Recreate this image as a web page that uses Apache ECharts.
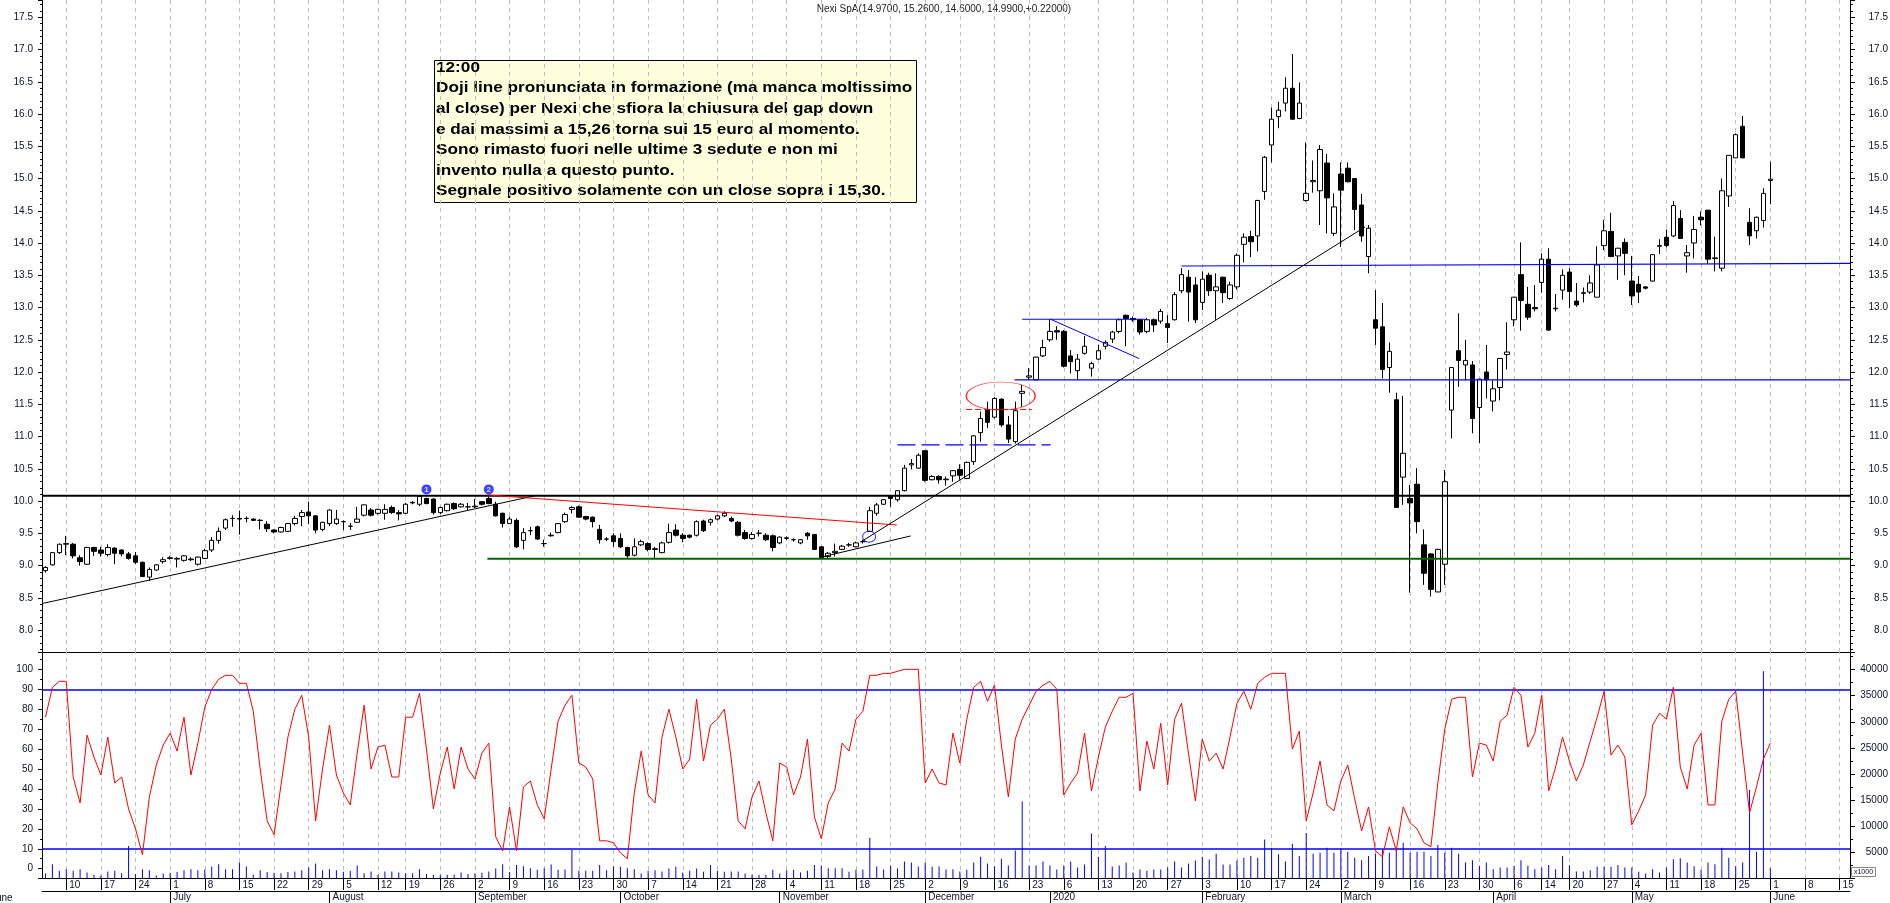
<!DOCTYPE html>
<html><head><meta charset="utf-8">
<script src="https://cdn.jsdelivr.net/npm/echarts@6/dist/echarts.min.js"></script>
<style>html,body{margin:0;padding:0;background:#fff;overflow:hidden}#c{width:1890px;height:903px}</style>
</head><body><div id="c"></div>
<script>
// ---------- calendar (trading days, Borsa Italiana) ----------
const calMonths = ['2019-06','2019-07','2019-08','2019-09','2019-10','2019-11','2019-12','2020-01','2020-02','2020-03','2020-04','2020-05','2020-06'];
const calDays = [
 [5,6,7,10,11,12,13,14,17,18,19,20,21,24,25,26,27,28],
 [1,2,3,4,5,8,9,10,11,12,15,16,17,18,19,22,23,24,25,26,29,30,31],
 [1,2,5,6,7,8,9,12,13,14,16,19,20,21,22,23,26,27,28,29,30],
 [2,3,4,5,6,9,10,11,12,13,16,17,18,19,20,23,24,25,26,27,30],
 [1,2,3,4,7,8,9,10,11,14,15,16,17,18,21,22,23,24,25,28,29,30,31],
 [1,4,5,6,7,8,11,12,13,14,15,18,19,20,21,22,25,26,27,28,29],
 [2,3,4,5,6,9,10,11,12,13,16,17,18,19,20,23,27,30],
 [2,3,6,7,8,9,10,13,14,15,16,17,20,21,22,23,24,27,28,29,30,31],
 [3,4,5,6,7,10,11,12,13,14,17,18,19,20,21,24,25,26,27,28],
 [2,3,4,5,6,9,10,11,12,13,16,17,18,19,20,23,24,25,26,27,30,31],
 [1,2,3,6,7,8,9,14,15,16,17,20,21,22,23,24,27,28,29,30],
 [4,5,6,7,8,11,12,13,14,15,18,19,20,21,22,25,26,27,28,29],
 [1,2,3,4,5,8,9,10,11,12,15,16]
];
const monthNames = ['January','February','March','April','May','June','July','August','September','October','November','December'];
const noGridDates = ['2019-12-30'];

// ---------- price data (OHLC) ----------
const openP = [
 8.92,9.01,9.20,9.33,9.33,9.12,9.02,9.28,9.24,9.17,
 9.27,9.24,9.18,9.15,9.05,8.82,8.93,9.06,9.12,9.10,
 9.08,9.09,9.02,9.11,9.24,9.39,9.58,9.73,9.73,9.73,
 9.72,9.70,9.64,9.55,9.52,9.53,9.65,9.76,9.83,9.77,
 9.56,9.65,9.65,9.68,9.61,9.67,9.78,9.86,9.81,9.81,
 9.90,9.82,9.81,9.97,9.95,10.04,10.03,9.82,9.85,9.96,
 9.91,9.91,9.91,9.99,10.04,9.95,9.81,9.65,9.70,9.39,
 9.54,9.60,9.34,9.46,9.51,9.68,9.87,9.91,9.76,9.75,
 9.56,9.41,9.46,9.42,9.28,9.16,9.32,9.34,9.26,9.20,
 9.36,9.55,9.47,9.47,9.47,9.69,9.67,9.72,9.77,9.73,
 9.67,9.51,9.42,9.50,9.47,9.46,9.35,9.42,9.40,9.35,
 9.50,9.48,9.29,9.14,9.20,9.25,9.32,9.29,9.37,9.53,
 9.81,9.95,10.08,10.02,10.16,10.56,10.51,10.78,10.33,10.38,
 10.33,10.39,10.49,10.35,10.61,11.06,11.41,11.30,11.58,11.18,
 10.92,11.67,11.92,11.88,12.25,12.50,12.64,12.63,12.25,12.02,
 12.29,12.06,12.20,12.40,12.51,12.63,12.88,12.83,12.81,12.63,
 12.81,12.79,12.75,12.81,13.26,13.47,13.35,13.08,13.50,13.26,
 13.47,13.14,13.32,13.98,14.10,14.11,14.80,15.52,15.96,16.17,
 16.40,15.93,14.66,14.95,14.81,15.24,14.15,15.07,15.16,15.00,
 14.59,13.79,12.81,12.70,12.07,11.57,10.37,10.04,10.26,9.32,
 9.18,8.59,9.02,11.41,12.33,12.11,12.11,11.45,12.00,11.55,
 11.76,12.27,12.81,13.51,13.05,13.00,13.39,13.75,12.98,13.27,
 13.55,13.10,13.22,13.24,13.16,13.96,14.18,13.80,14.01,13.41,
 13.36,13.32,13.41,13.95,14.09,14.11,14.38,13.80,14.00,14.40,
 14.51,13.76,13.61,14.73,15.32,15.81,14.32,14.19,14.35,14.97
];
const highP = [
 8.99,9.21,9.34,9.46,9.35,9.16,9.29,9.29,9.29,9.33,
 9.28,9.25,9.21,9.21,9.06,8.97,9.02,9.13,9.15,9.13,
 9.16,9.13,9.14,9.26,9.44,9.59,9.73,9.78,9.85,9.76,
 9.73,9.72,9.69,9.56,9.60,9.66,9.77,9.86,9.99,9.78,
 9.68,9.87,9.86,9.70,9.66,9.91,9.95,9.89,9.88,9.95,
 9.93,9.86,9.97,10.00,10.08,10.05,10.04,9.91,9.96,9.98,
 9.97,9.97,10.03,10.00,10.07,9.99,9.82,9.76,9.73,9.58,
 9.60,9.62,9.40,9.51,9.66,9.82,9.92,9.93,9.77,9.76,
 9.63,9.44,9.50,9.50,9.29,9.42,9.40,9.36,9.29,9.37,
 9.65,9.64,9.50,9.48,9.70,9.71,9.73,9.79,9.84,9.76,
 9.69,9.55,9.52,9.55,9.50,9.48,9.45,9.45,9.42,9.41,
 9.52,9.49,9.30,9.21,9.34,9.32,9.35,9.37,9.40,9.91,
 9.97,10.03,10.09,10.17,10.56,10.65,10.74,10.79,10.40,10.40,
 10.38,10.48,10.57,10.61,11.02,11.39,11.54,11.61,11.59,11.32,
 11.54,11.80,12.06,12.24,12.50,12.82,12.71,12.65,12.34,12.28,
 12.56,12.16,12.42,12.49,12.64,12.83,12.89,12.86,12.82,12.84,
 12.83,12.98,12.88,13.24,13.61,13.58,13.47,13.56,13.54,13.53,
 13.48,13.40,13.84,14.15,14.19,14.67,15.35,16.10,16.19,16.57,
 16.93,16.49,15.56,15.28,15.52,15.38,14.77,15.25,15.25,15.00,
 14.76,14.28,13.27,13.07,12.46,11.68,11.63,10.25,10.51,9.56,
 9.19,9.26,10.48,12.07,12.91,12.50,12.17,11.89,12.42,11.87,
 12.21,12.77,13.16,14.01,13.32,13.35,13.84,13.92,13.21,13.59,
 13.61,13.38,13.31,13.50,13.95,14.36,14.47,13.92,14.07,13.80,
 13.49,13.33,13.82,14.06,14.21,14.65,14.51,13.97,14.42,14.49,
 14.51,14.10,15.00,15.36,15.70,15.97,14.54,14.41,14.85,15.26
];
const lowP = [
 8.89,9.00,9.18,9.16,9.11,9.00,9.01,9.15,9.14,9.14,
 9.02,9.14,9.09,9.02,8.82,8.76,8.92,9.03,9.09,8.97,
 9.06,9.07,9.00,9.10,9.21,9.34,9.55,9.60,9.48,9.67,
 9.69,9.56,9.52,9.50,9.51,9.52,9.62,9.61,9.64,9.50,
 9.53,9.61,9.63,9.55,9.55,9.66,9.76,9.76,9.79,9.71,
 9.80,9.70,9.80,9.95,9.92,9.95,9.79,9.80,9.84,9.86,
 9.90,9.86,9.89,9.93,9.95,9.76,9.59,9.65,9.27,9.25,
 9.47,9.40,9.29,9.45,9.50,9.66,9.81,9.74,9.70,9.59,
 9.34,9.38,9.29,9.27,9.12,9.14,9.30,9.22,9.12,9.19,
 9.34,9.45,9.36,9.42,9.45,9.52,9.62,9.70,9.75,9.67,
 9.45,9.40,9.40,9.45,9.38,9.22,9.33,9.39,9.37,9.33,
 9.40,9.24,9.10,9.11,9.14,9.24,9.29,9.28,9.34,9.52,
 9.77,9.94,9.91,9.99,10.15,10.49,10.50,10.30,10.32,10.27,
 10.24,10.30,10.33,10.34,10.56,10.92,11.13,11.28,11.15,10.90,
 10.89,11.46,11.88,11.87,12.23,12.47,12.50,12.07,11.98,11.88,
 12.27,11.93,12.19,12.35,12.45,12.60,12.40,12.78,12.58,12.60,
 12.62,12.75,12.45,12.80,13.22,12.78,12.76,12.96,13.18,12.81,
 13.07,13.12,13.28,13.70,13.78,13.87,14.67,15.25,15.78,16.04,
 15.91,15.92,14.64,14.78,14.28,14.15,14.11,13.94,14.94,14.20,
 14.02,13.53,12.42,11.90,11.68,9.90,9.94,8.58,9.50,8.70,
 8.52,8.59,8.70,10.97,11.77,11.87,11.05,10.90,11.59,11.39,
 11.56,12.04,12.71,12.64,12.81,12.94,13.23,12.64,12.94,13.12,
 12.99,13.01,13.08,13.21,13.16,13.89,13.78,13.43,13.50,13.04,
 13.07,13.28,13.40,13.83,13.93,14.09,14.07,13.54,13.76,14.27,
 13.68,13.56,13.56,14.56,15.32,15.32,13.97,14.07,14.24,14.60
];
const closeP = [
 8.97,9.20,9.33,9.34,9.15,9.06,9.28,9.22,9.19,9.28,
 9.19,9.18,9.11,9.05,8.83,8.94,9.01,9.09,9.11,9.11,
 9.15,9.10,9.13,9.23,9.39,9.53,9.71,9.73,9.72,9.73,
 9.70,9.70,9.57,9.52,9.59,9.65,9.73,9.82,9.77,9.55,
 9.67,9.86,9.72,9.68,9.61,9.72,9.94,9.78,9.87,9.87,
 9.82,9.80,9.95,9.98,10.07,9.96,9.82,9.90,9.95,9.88,
 9.95,9.91,9.92,9.95,9.96,9.77,9.65,9.72,9.29,9.51,
 9.54,9.41,9.34,9.47,9.65,9.79,9.90,9.75,9.72,9.68,
 9.40,9.41,9.37,9.29,9.15,9.29,9.37,9.25,9.25,9.35,
 9.51,9.47,9.42,9.44,9.68,9.54,9.71,9.77,9.81,9.69,
 9.47,9.42,9.48,9.50,9.40,9.28,9.44,9.43,9.40,9.40,
 9.46,9.25,9.12,9.19,9.22,9.30,9.32,9.35,9.37,9.85,
 9.94,10.02,10.04,10.16,10.51,10.58,10.71,10.32,10.38,10.33,
 10.34,10.47,10.40,10.60,11.01,11.28,11.22,11.59,11.18,10.96,
 11.40,11.70,11.94,12.23,12.38,12.63,12.62,12.09,12.16,12.20,
 12.40,12.13,12.33,12.46,12.62,12.81,12.83,12.81,12.62,12.81,
 12.73,12.94,12.69,13.20,13.51,13.24,12.81,13.44,13.26,13.32,
 13.23,13.35,13.81,14.09,14.02,14.66,15.33,15.92,16.06,16.40,
 15.92,16.17,14.77,14.97,15.45,14.70,14.56,14.82,14.95,14.52,
 14.11,14.23,12.68,12.04,12.32,9.90,10.74,9.97,9.68,8.88,
 8.63,9.25,10.30,12.07,12.18,12.18,11.28,11.89,11.88,11.74,
 12.21,12.31,13.16,13.11,12.85,12.98,13.75,12.65,12.99,13.50,
 13.25,13.04,13.23,13.38,13.66,14.19,13.79,13.92,13.84,13.18,
 13.24,13.30,13.82,13.96,13.96,14.58,14.07,13.85,14.21,14.36,
 13.75,13.77,14.81,15.36,15.68,15.32,14.11,14.40,14.77,14.99
];
// ---------- oscillator (%) ----------
const stochK = [
 76,91,94,94,46,33,67,56,47,66,
 43,46,30,20,7,36,52,62,68,59,
 76,47,63,81,90,95,97,97,93,93,
 79,50,24,17,42,66,80,87,66,24,
 50,72,47,38,32,58,82,50,61,62,
 46,46,76,76,88,60,30,48,61,40,
 61,50,45,58,63,16,9,31,9,41,
 44,32,25,50,74,82,87,53,51,45,
 14,14,13,8,5,38,59,37,33,66,
 80,66,50,55,85,54,72,75,80,55,
 24,20,36,44,28,14,53,51,37,46,
 65,26,15,33,40,63,59,75,79,97,
 97,98,98,99,100,100,100,43,50,43,
 42,68,53,75,91,94,84,92,62,36,
 65,75,82,89,92,94,90,37,43,48,
 68,39,56,71,79,86,86,88,39,64,
 50,73,42,75,83,58,34,65,54,58,
 50,66,83,89,80,93,96,98,98,98,
 60,69,24,38,54,32,29,44,52,35,
 19,31,9,6,21,9,31,23,20,13,
 11,43,70,85,86,86,46,63,62,54,
 74,77,91,87,61,68,87,39,51,66,
 54,44,52,64,76,89,57,62,56,22,
 29,37,72,78,75,91,51,40,62,68,
 32,32,74,85,89,58,28,41,55,63
];
// ---------- volume (x1000) ----------
const volumeK = [
 870,2650,1380,1700,1380,1700,1060,620,500,1250,
 1380,930,6130,750,1700,1510,500,870,1000,1130,
 1510,1700,1510,1630,2200,2650,1700,1700,2960,2200,
 620,1510,1130,1000,930,1130,1250,1510,2010,2770,
 1510,1700,1510,1190,1380,2390,930,1250,620,1250,
 1250,1060,930,930,1700,750,620,620,620,620,
 1060,750,870,1000,1250,1820,2650,1130,2520,2270,
 1890,1570,1890,2580,1570,1630,5430,1380,1380,1380,
 2520,1510,2200,2140,1890,1700,870,1380,1510,1250,
 1820,2140,1060,1380,1820,1190,2520,1380,1190,1250,
 1250,870,620,620,620,1570,870,1510,1570,1060,
 1380,2520,2390,1890,1890,1890,1190,1570,1630,7710,
 2200,1630,2390,1820,3150,2960,2200,2960,2140,2200,
 1630,1700,1250,1570,2960,4100,2770,2200,3720,2390,
 5300,14680,2390,2390,3150,2390,1630,2390,3150,2010,
 2580,8540,4100,6130,2200,2390,2960,1060,1630,1380,
 1630,1630,2010,3150,2010,2770,3340,4100,3540,4670,
 2580,2580,3340,3910,4230,3910,7390,5810,4540,3150,
 6570,4230,8660,4670,4860,5810,4860,5680,5050,3910,
 3410,4230,4670,5490,4860,5810,6760,4860,5050,5050,
 4230,6320,4860,5810,4670,2960,3410,2330,2960,1700,
 2010,2010,2330,3410,2330,1700,2010,2520,1700,4230,
 2460,1250,1250,1510,2140,2140,2140,2520,2010,2010,
 1190,870,1700,1060,2010,3600,3780,2960,2270,1570,
 2960,2650,5810,3910,2270,2960,16890,5050,39680,1890
];
// ---------- drawings, in (day index, price) ----------
const lineBlack10 = [[-0.5, 10.083], [260.5, 10.083]];
const lineGreen91 = [[63.8, 9.106], [260.5, 9.106]];
const lineBlue1188 = [[139.9, 11.877], [260.5, 11.877]];
const lineBlue1365 = [[164.0, 13.644], [260.5, 13.686]];
const lineBlue1282 = [[141.0, 12.818], [158.8, 12.818]];
const lineBlueDesc = [[145.1, 12.818], [157.9, 12.208]];
const lineBlueDash = [[123.0, 10.869], [145.1, 10.869]];
const lineRedDash = [[132.9, 11.42], [142.4, 11.42]];
const trendUp1 = [[-0.5, 8.41], [71.0, 10.09]];
const trendRed = [[63.8, 10.094], [122.9, 9.628]];
const trendSmall = [[112.25, 9.137], [124.9, 9.458]];
const trendUp2 = [[117.7, 9.366], [190.5, 14.25]];
const ellipseRed = [[137.9, 11.628]];
const ellipseBlue = [[118.9, 9.447]];
const markerDots = [[55, 10.18, '1'], [64, 10.18, '2']];
const oscLevels = [90, 10];

const titleText = 'Nexi SpA(14.9700, 15.2600, 14.6000, 14.9900,+0.22000)';
const noteLines = [
 '12:00',
 'Doji line pronunciata in formazione (ma manca moltissimo',
 'al close) per Nexi che sfiora la chiusura del gap down',
 'e dai massimi a 15,26 torna sui 15 euro al momento.',
 'Sono rimasto fuori nelle ultime 3 sedute e non mi',
 'invento nulla a questo punto.',
 'Segnale positivo solamente con un close sopra i 15,30.'
];

// ---------- derived ----------
const dates = [];
calMonths.forEach((m, k) => calDays[k].forEach(d => dates.push(m + '-' + String(d).padStart(2, '0'))));
const weekStart = new Set();
const monthStart = new Set();
for (let i = 1; i < dates.length; i++) {
  const a = new Date(dates[i-1] + 'T00:00:00Z'), b = new Date(dates[i] + 'T00:00:00Z');
  if ((b.getUTCDay() <= a.getUTCDay() || (b - a) >= 7 * 864e5) && !noGridDates.includes(dates[i])) weekStart.add(i);
  if (dates[i].slice(0, 7) !== dates[i-1].slice(0, 7)) monthStart.add(i);
}
const candleData = openP.map((o, i) => [o, closeP[i], lowP[i], highP[i]]);
const gridMarks = dates.filter((d, i) => weekStart.has(i)).map(d => ({ xAxis: d }));

const FONT = '"Liberation Sans", Arial, sans-serif';
const txt = { color: '#10102a', fontSize: 10, fontFamily: FONT };
const gridLineStyle = { color: '#bdbdbd', width: 1, type: [4, 4] };

function drawLine(data, color, width, type, z) {
  return { type: 'line', xAxisIndex: 1, yAxisIndex: 0, data, symbol: 'none', silent: true,
    lineStyle: { color, width, type: type || 'solid' }, z: z || 5, animation: false, clip: true };
}

const chart = echarts.init(document.getElementById('c'), null, { renderer: 'canvas' });
chart.setOption({
  animation: false,
  backgroundColor: '#ffffff',
  grid: [
    { left: 42, right: 40, top: 0, height: 652, containLabel: false, outerBoundsMode: 'none' },
    { left: 42, right: 40, top: 652, height: 226, containLabel: false, outerBoundsMode: 'none' }
  ],
  xAxis: [
    { type: 'category', gridIndex: 0, data: dates, boundaryGap: true,
      axisLine: { show: true, onZero: false, lineStyle: { color: '#000', width: 1 } },
      axisTick: { show: false }, axisLabel: { show: false }, splitLine: { show: false } },
    { type: 'value', gridIndex: 0, min: -0.5, max: 260.5, show: false, splitLine: { show: false } },
    { type: 'category', gridIndex: 1, data: dates, boundaryGap: true, position: 'bottom',
      axisLine: { show: true, onZero: false, lineStyle: { color: '#000', width: 1 } },
      axisTick: { show: true, alignWithLabel: true, length: 12, interval: (i) => weekStart.has(i), lineStyle: { color: '#000' } },
      axisLabel: { ...txt, interval: (i) => weekStart.has(i), align: 'left', margin: 2, padding: [0, 0, 0, 3],
        formatter: (v) => String(+v.slice(8)) },
      splitLine: { show: false } },
    { type: 'category', gridIndex: 1, data: dates, boundaryGap: true, position: 'bottom', offset: 13,
      axisLine: { show: true, onZero: false, lineStyle: { color: '#000', width: 1 } },
      axisTick: { show: true, alignWithLabel: true, length: 12, interval: (i) => monthStart.has(i), lineStyle: { color: '#000' } },
      axisLabel: { ...txt, interval: (i) => monthStart.has(i), align: 'left', margin: 1, padding: [0, 0, 0, 3],
        formatter: (v) => { const m = +v.slice(5, 7); return m === 1 ? v.slice(0, 4) : monthNames[m - 1]; } },
      splitLine: { show: false } }
  ],
  yAxis: [
    { type: 'value', gridIndex: 0, position: 'left', min: 7.659, max: 17.768, minInterval: 0.5, maxInterval: 0.5, splitNumber: 20,
      axisLine: { show: true, onZero: false, lineStyle: { color: '#000', width: 1 } },
      axisTick: { show: true, length: 4, lineStyle: { color: '#000' } },
      minorTick: { show: true, splitNumber: 5, length: 2, lineStyle: { color: '#000' } },
      axisLabel: { ...txt, margin: 9, showMinLabel: false, showMaxLabel: false, formatter: (v) => v.toFixed(1) },
      splitLine: { show: false } },
    { type: 'value', gridIndex: 0, position: 'right', min: 7.659, max: 17.768, minInterval: 0.5, maxInterval: 0.5, splitNumber: 20,
      axisLine: { show: true, onZero: false, lineStyle: { color: '#000', width: 1 } },
      axisTick: { show: true, length: 5, lineStyle: { color: '#000' } },
      minorTick: { show: true, splitNumber: 5, length: 3, lineStyle: { color: '#000' } },
      axisLabel: { ...txt, margin: 38, align: 'right', showMinLabel: false, showMaxLabel: false, formatter: (v) => v.toFixed(1) },
      splitLine: { show: false } },
    { type: 'value', gridIndex: 1, position: 'left', min: -4.66, max: 108.7, minInterval: 10, maxInterval: 10, splitNumber: 11,
      axisLine: { show: true, onZero: false, lineStyle: { color: '#000', width: 1 } },
      axisTick: { show: true, length: 4, lineStyle: { color: '#000' } },
      minorTick: { show: true, splitNumber: 2, length: 2, lineStyle: { color: '#000' } },
      axisLabel: { ...txt, margin: 9, showMinLabel: false, showMaxLabel: false, formatter: (v) => String(Math.round(v)) },
      splitLine: { show: false } },
    { type: 'value', gridIndex: 1, position: 'right', min: 0, max: 43400, minInterval: 5000, maxInterval: 5000, splitNumber: 9,
      axisLine: { show: true, onZero: false, lineStyle: { color: '#000', width: 1 } },
      axisTick: { show: true, length: 5, lineStyle: { color: '#000' } },
      minorTick: { show: true, splitNumber: 2, length: 3, lineStyle: { color: '#000' } },
      axisLabel: { ...txt, margin: 38, align: 'right', showMinLabel: false, showMaxLabel: false, formatter: (v) => String(Math.round(v)) },
      splitLine: { show: false } }
  ],
  series: [
    { type: 'candlestick', name: 'Nexi', xAxisIndex: 0, yAxisIndex: 0, data: candleData, barWidth: 5, z: 3,
      itemStyle: { color: '#ffffff', color0: '#000000', borderColor: '#000000', borderColor0: '#000000', borderColorDoji: '#000000', borderWidth: 1 },
      markLine: { silent: true, z: 1, symbol: ['none', 'none'], label: { show: false }, lineStyle: gridLineStyle, data: gridMarks, animation: false } },
    { type: 'bar', name: 'Volume', xAxisIndex: 2, yAxisIndex: 3, data: volumeK, barWidth: 1, z: 2,
      itemStyle: { color: '#0000ff' },
      markLine: { silent: true, z: 1, symbol: ['none', 'none'], label: { show: false }, lineStyle: gridLineStyle, data: gridMarks, animation: false } },
    { type: 'line', name: 'Osc', xAxisIndex: 2, yAxisIndex: 2, data: stochK, symbol: 'none', z: 4,
      lineStyle: { color: '#ff0000', width: 1 },
      markLine: { silent: true, z: 3, symbol: ['none', 'none'], label: { show: false }, lineStyle: { color: '#0000ff', width: 1.5, type: 'solid' },
        data: oscLevels.map(v => ({ yAxis: v })), animation: false } },
    drawLine(lineBlack10, '#000000', 2),
    drawLine(lineGreen91, '#006400', 2),
    drawLine(lineBlue1188, '#0000ff', 1.2),
    drawLine(lineBlue1365, '#0000ff', 1.2),
    drawLine(lineBlue1282, '#0000ff', 1.2),
    drawLine(lineBlueDesc, '#0000ff', 1),
    drawLine(lineBlueDash, '#0000ff', 1.2, [18, 6]),
    drawLine(lineRedDash, '#ff0000', 1, [6, 3]),
    drawLine(trendUp1, '#000000', 1),
    drawLine(trendRed, '#ff0000', 1),
    drawLine(trendSmall, '#000000', 1),
    drawLine(trendUp2, '#000000', 1),
    { type: 'scatter', xAxisIndex: 1, yAxisIndex: 0, data: ellipseRed, silent: true, z: 6,
      symbol: 'path://M0 50A50 50 0 1 1 100 50A50 50 0 1 1 0 50Z', symbolSize: [69, 28],
      itemStyle: { color: 'rgba(0,0,0,0)', borderColor: '#ff0000', borderWidth: 1 } },
    { type: 'scatter', xAxisIndex: 1, yAxisIndex: 0, data: ellipseBlue, silent: true, z: 6,
      symbol: 'path://M0 50A50 50 0 1 1 100 50A50 50 0 1 1 0 50Z', symbolSize: [13, 11],
      itemStyle: { color: 'rgba(0,0,0,0)', borderColor: '#0000ff', borderWidth: 1 } },
    { type: 'scatter', xAxisIndex: 1, yAxisIndex: 0, silent: true, z: 6, symbol: 'circle', symbolSize: 10,
      data: markerDots.map(m => ({ value: [m[0], m[1]], label: { formatter: m[2] } })),
      itemStyle: { color: '#1010ff' },
      label: { show: true, position: 'inside', color: '#ffffff', fontSize: 8, fontWeight: 'bold', fontFamily: FONT } }
  ],
  graphic: [
    { type: 'text', x: 944, y: 9, silent: true,
      style: { text: titleText, font: '10px ' + FONT, fill: '#222', align: 'center', verticalAlign: 'middle' } },
    { type: 'group', x: 434, y: 60, silent: true, children: [
      { type: 'rect', shape: { x: 0.5, y: 0.5, width: 482, height: 142 }, style: { fill: '#ffffdd', stroke: '#000', lineWidth: 1 } },
      { type: 'text', x: 2, y: -2.6, scaleX: 1.145, scaleY: 1,
        style: { text: noteLines.join('\n'), font: 'bold 15px ' + FONT, lineHeight: 20.6, fill: '#000', align: 'left', verticalAlign: 'top' } }
    ] },
    { type: 'text', x: -9, y: 898, silent: true,
      style: { text: 'June', font: '10px ' + FONT, fill: '#10102a', align: 'left', verticalAlign: 'middle' } },
    { type: 'rect', shape: { x: 1851.5, y: 867.5, width: 24, height: 9 }, silent: true, style: { fill: '#fff', stroke: '#888', lineWidth: 1 } },
    { type: 'text', x: 1863.5, y: 872, silent: true,
      style: { text: 'x1000', font: '7px ' + FONT, fill: '#10102a', align: 'center', verticalAlign: 'middle' } }
  ]
});
</script>
</body></html>
